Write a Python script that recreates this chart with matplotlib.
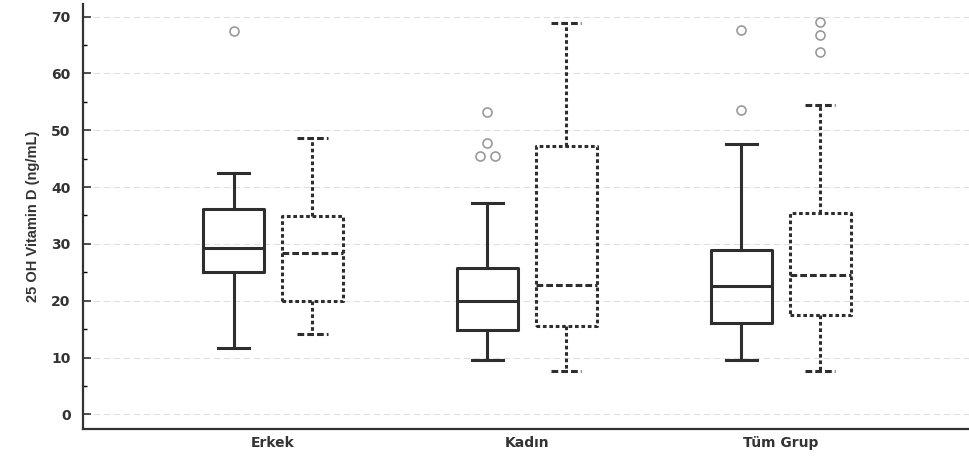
import matplotlib.pyplot as plt
from matplotlib.ticker import MultipleLocator

plt.rcParams['font.family'] = ['DejaVu Sans']

# gruplar
gruplar = ['Erkek', 'Kadın', 'Tüm Grup']

# düz kutular (birinci seri)
s1_alt = [11.6, 9.5, 9.5]
s1_q1 = [25.1, 14.9, 16.1]
s1_med = [29.3, 19.9, 22.6]
s1_q3 = [36.1, 25.8, 28.9]
s1_ust = [42.5, 37.2, 47.5]
s1_aykiri = [[67.5], [53.3, 47.7, 45.4, 45.4], [67.7, 53.5]]

# kesikli kutular (ikinci seri)
s2_alt = [14.2, 7.7, 7.7]
s2_q1 = [19.9, 15.5, 17.4]
s2_med = [28.4, 22.8, 24.6]
s2_q3 = [34.9, 47.2, 35.4]
s2_ust = [48.6, 68.8, 54.4]
s2_aykiri = [[], [], [69.0, 66.8, 63.7]]

renk = '#2e2e2e'


def istat(alt, q1, med, q3, ust):
    return [dict(whislo=a, q1=b, med=c, q3=d, whishi=e)
            for a, b, c, d, e in zip(alt, q1, med, q3, ust)]


def aykiri_ciz(ax, konumlar, aykiri):
    for p, vals in zip(konumlar, aykiri):
        # aynı değerdeki noktaları yan yana koy
        xs = []
        for i, v in enumerate(vals):
            n = vals.count(v)
            if n > 1:
                k = [j for j, w in enumerate(vals) if w == v].index(i)
                xs.append(p + (k - (n - 1) / 2) * 0.06)
            else:
                xs.append(p)
        ax.plot(xs, vals, 'o', mfc='none', mec='#9a9a9a', ms=6.5, mew=1.2,
                zorder=3)


fig = plt.figure(figsize=(9.7, 4.57), dpi=100)
ax = fig.add_axes([0.0856, 0.061, 0.914, 0.93])

# y ızgarası
for v in range(0, 80, 10):
    ax.axhline(v, color='#e0e0e0', lw=0.8, ls=(0, (6, 3)), zorder=0)

x = [1, 2, 3]
ofset = 0.155
gen = 0.24
poz1 = [p - ofset for p in x]
poz2 = [p + ofset for p in x]

cizgi1 = dict(color=renk, lw=2.2)
ax.bxp(istat(s1_alt, s1_q1, s1_med, s1_q3, s1_ust),
       positions=poz1, widths=gen, showfliers=False,
       boxprops=cizgi1, whiskerprops=cizgi1, capprops=cizgi1,
       medianprops=cizgi1, capwidths=0.12)
aykiri_ciz(ax, poz1, s1_aykiri)

cizgi2 = dict(color=renk, lw=2.2, ls=(0, (1.2, 0.9)))
medyan2 = dict(color=renk, lw=2.2, ls=(0, (2.2, 1.0)))
ax.bxp(istat(s2_alt, s2_q1, s2_med, s2_q3, s2_ust),
       positions=poz2, widths=gen, showfliers=False,
       boxprops=cizgi2, whiskerprops=cizgi2, capprops=medyan2,
       medianprops=medyan2, capwidths=0.12)
aykiri_ciz(ax, poz2, s2_aykiri)

ax.set_xlim(0.252, 3.744)
ax.set_ylim(-2.6, 72.2)
ax.set_xticks(x)
ax.set_xticklabels(gruplar, fontsize=10, fontweight='bold', color='#333333')
ax.yaxis.set_major_locator(MultipleLocator(10))
ax.yaxis.set_minor_locator(MultipleLocator(5))
ax.tick_params(axis='y', which='major', direction='in', length=6,
               width=1.2, labelsize=10, colors='#333333', pad=9)
ax.tick_params(axis='y', which='minor', direction='in', length=3, width=1)
for t in ax.get_yticklabels():
    t.set_fontweight('bold')
ax.tick_params(axis='x', length=0, pad=5)

ax.set_ylabel('25 OH Vitamin D (ng/mL)', fontsize=10.5, fontweight='bold',
              color='#333333', labelpad=8, family='Liberation Sans')

for s in ['top', 'right']:
    ax.spines[s].set_visible(False)
for s in ['left', 'bottom']:
    ax.spines[s].set_linewidth(1.6)
    ax.spines[s].set_color('#333333')

fig.savefig('out.png', dpi=100)
